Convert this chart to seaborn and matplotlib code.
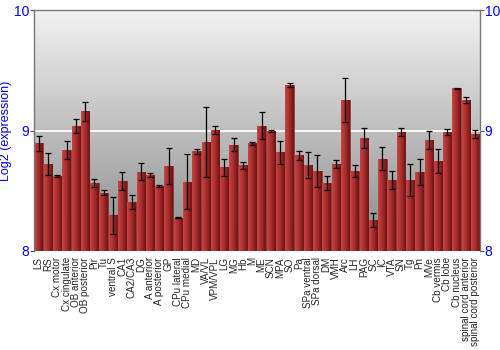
import numpy as np
import pandas as pd
import matplotlib
matplotlib.use("Agg")
import matplotlib.pyplot as plt
import seaborn as sns
from matplotlib.colors import LinearSegmentedColormap

regions = ["LS", "RS", "Cx motor", "Cx cingulate", "OB anterior", "OB posterior", "Pir", "Tu",
           "ventral S", "CA1", "CA2/CA3", "DG", "A anterior", "A posterior", "GP", "CPu lateral",
           "CPu medial", "MD", "VA/VL", "VPM/VPL", "LG", "MG", "Hb", "M", "ME", "SCN", "MPA",
           "SO", "Pa", "SPa ventral", "SPa dorsal", "DM", "VMH", "Arc", "LH", "PAG", "SC", "IC",
           "VTA", "SN", "Tg", "Pn", "MVe", "Cb vermis", "Cb lobe", "Cb nucleus",
           "spinal cord anterior", "spinal cord posterior"]
expression = [8.894, 8.724, 8.622, 8.84, 9.04, 9.16, 8.564, 8.484,
              8.296, 8.581, 8.407, 8.658, 8.631, 8.539, 8.705, 8.276,
              8.575, 8.827, 8.905, 9.004, 8.694, 8.882, 8.711, 8.894, 9.04, 8.996, 8.82,
              9.378, 8.794, 8.714, 8.664, 8.562, 8.722, 9.256, 8.664, 8.938, 8.257, 8.766,
              8.586, 8.99, 8.589, 8.656, 8.924, 8.747, 8.988, 9.35,
              9.253, 8.971]
error = [0.06, 0.09, 0.005, 0.076, 0.06, 0.08, 0.03, 0.02,
         0.153, 0.077, 0.06, 0.07, 0.02, 0.008, 0.153, 0.005,
         0.23, 0.022, 0.29, 0.03, 0.07, 0.053, 0.03, 0.014, 0.11, 0.012, 0.097,
         0.018, 0.039, 0.11, 0.136, 0.057, 0.033, 0.184, 0.046, 0.086, 0.055, 0.097,
         0.075, 0.032, 0.134, 0.108, 0.075, 0.1, 0.026, 0.003,
         0.026, 0.03]
y_ticks = [8, 9, 10]
y_min, y_max = 8, 10

df = pd.DataFrame({"region": regions, "expression": expression, "error": error})

sns.set_style("white")
plt.rcParams["font.family"] = ["Liberation Sans", "DejaVu Sans"]

fig = plt.figure(figsize=(5, 3.5), dpi=100)
ax = fig.add_axes([0.068, 0.283, 0.892, 0.688])

sns.barplot(data=df, x="region", y="expression", color="#b03434", width=0.92,
            saturation=1, edgecolor="#7a1c1c", linewidth=0.4, ax=ax, zorder=2)

# background gradient (light at top, darker at bottom)
grad = np.linspace(0, 1, 256).reshape(-1, 1)
bg_cmap = LinearSegmentedColormap.from_list("bg", ["#f2f2f2", "#8a8a8a"])
ax.imshow(grad, aspect="auto", cmap=bg_cmap, origin="upper", extent=[0, 1, 0, 1],
          transform=ax.transAxes, zorder=0)

ax.axhline(9, color="white", lw=1.3, zorder=1)

# bar gradient shading
bar_cmap = LinearSegmentedColormap.from_list(
    "bar", ["#c44848", "#b83636", "#a82c2c", "#8a1e1e", "#6e1414"])
hgrad = np.linspace(0, 1, 64).reshape(1, -1)
xs = []
for p in list(ax.patches):
    x0, w, h = p.get_x(), p.get_width(), p.get_height()
    y0 = p.get_y()
    im = ax.imshow(hgrad, aspect="auto", cmap=bar_cmap,
                   extent=[x0, x0 + w, y_min, y0 + h], zorder=2.5)
    im.set_clip_path(p)
    xs.append(x0 + w / 2)

ax.errorbar(xs, df["expression"], yerr=df["error"], fmt="none", ecolor="black",
            elinewidth=0.9, capsize=2, capthick=0.9, zorder=4)

ax.set_xlim(-0.5, len(regions) - 0.5)
ax.set_ylim(y_min, y_max)
ax.set_aspect("auto")
ax.set_xlabel("")
ax.set_ylabel("Log2 (expression)", color="blue", fontsize=9, labelpad=1)
ax.yaxis.set_label_coords(-0.05, 0.5)
ax.set_yticks(y_ticks)
ax.set_yticklabels([str(t) for t in y_ticks])
ax.tick_params(axis="y", colors="#555555", labelcolor="blue", labelsize=10,
               length=3, width=0.8, left=True, right=True, labelleft=True,
               labelright=True, pad=0.5)
ax.tick_params(axis="x", bottom=False, labelsize=7.1, pad=1)
plt.setp(ax.get_xticklabels(), rotation=90)

for s in ["left", "right", "top"]:
    ax.spines[s].set_color("#777777")
    ax.spines[s].set_linewidth(1)
ax.spines["bottom"].set_visible(False)

fig.savefig("out.png", dpi=100)
